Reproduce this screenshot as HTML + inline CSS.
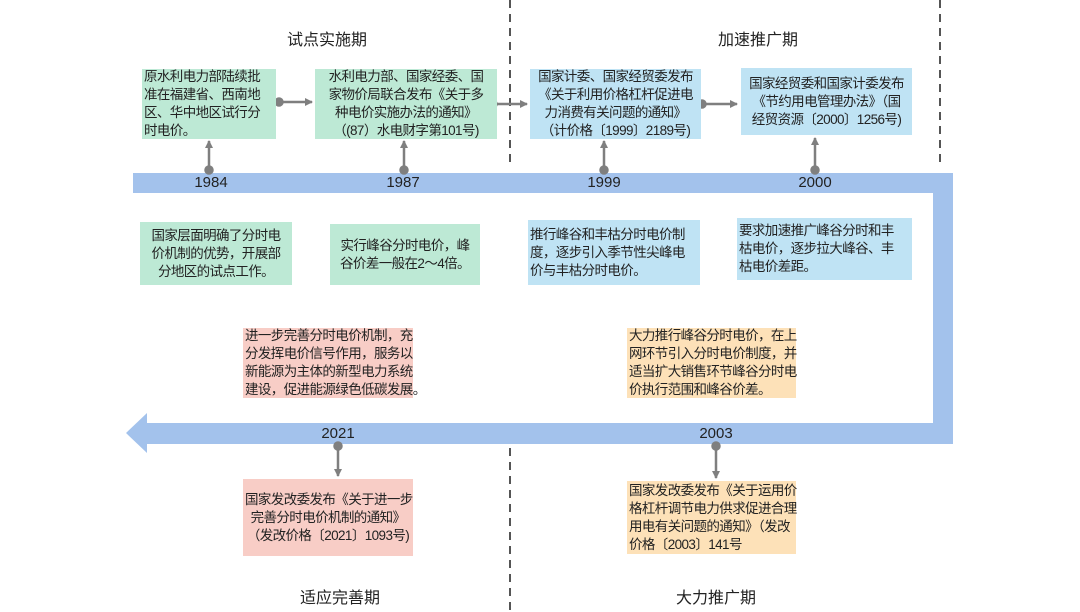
<!DOCTYPE html>
<html><head><meta charset="utf-8"><style>
body{margin:0;width:1080px;height:612px;background:#fff;position:relative;overflow:hidden;font-family:"Liberation Sans","Noto Sans CJK SC",sans-serif;color:#222}
.b{position:absolute;font-size:13.5px;line-height:18px;box-sizing:border-box;padding:0 2px;display:flex;align-items:center;justify-content:center;white-space:nowrap;letter-spacing:-0.6px}
.b div{width:100%}
.g{background:#bde9d5}.bl{background:#bfe3f4}.p{background:#f8cdc6}.o{background:#fde1b8}
.t{position:absolute;font-size:16px;transform:translateX(-50%)}
.y{position:absolute;font-size:15px;transform:translateX(-50%)}
</style></head><body>
<svg width="1080" height="612" style="position:absolute;left:0;top:0">
<defs><marker id="a" markerWidth="8" markerHeight="8" refX="7" refY="4" orient="auto" markerUnits="userSpaceOnUse"><path d="M0,0L8,4L0,8z" fill="#7f7f7f"/></marker></defs>
<g stroke="#555" stroke-width="2" stroke-dasharray="8,6">
<line x1="510" y1="0" x2="510" y2="162"/><line x1="940" y1="0" x2="940" y2="162"/><line x1="510" y1="448" x2="510" y2="612"/></g>
<path d="M133,173H953V444H147V453L126,433L147,413V423H933V193H133Z" fill="#a3c2ec"/>
<g stroke="#7f7f7f" stroke-width="2.5" fill="#7f7f7f">
<line x1="209" y1="170" x2="209" y2="141" marker-end="url(#a)"/><circle cx="209" cy="170" r="3.5"/>
<line x1="404" y1="170" x2="404" y2="141" marker-end="url(#a)"/><circle cx="404" cy="170" r="3.5"/>
<line x1="604" y1="170" x2="604" y2="141" marker-end="url(#a)"/><circle cx="604" cy="170" r="3.5"/>
<line x1="815" y1="170" x2="815" y2="138" marker-end="url(#a)"/><circle cx="815" cy="170" r="3.5"/>
<line x1="338" y1="446" x2="338" y2="476" marker-end="url(#a)"/><circle cx="338" cy="446" r="3.5"/>
<line x1="716" y1="446" x2="716" y2="478" marker-end="url(#a)"/><circle cx="716" cy="446" r="3.5"/>
<line x1="279" y1="102" x2="312" y2="102" marker-end="url(#a)"/><circle cx="279" cy="102" r="3.5"/>
<line x1="493" y1="104" x2="527" y2="104" marker-end="url(#a)"/><circle cx="493" cy="104" r="3.5"/>
<line x1="702" y1="104" x2="737" y2="104" marker-end="url(#a)"/><circle cx="702" cy="104" r="3.5"/>
</g></svg>
<div class="t" style="left:327px;top:26px">试点实施期</div>
<div class="t" style="left:758px;top:26px">加速推广期</div>
<div class="t" style="left:340px;top:584px">适应完善期</div>
<div class="t" style="left:716px;top:584px">大力推广期</div>
<div class="y" style="left:211px;top:174px">1984</div>
<div class="y" style="left:403px;top:174px">1987</div>
<div class="y" style="left:604px;top:174px">1999</div>
<div class="y" style="left:815px;top:174px">2000</div>
<div class="y" style="left:338px;top:425px">2021</div>
<div class="y" style="left:716px;top:425px">2003</div>
<div class="b g" style="left:142px;top:69px;width:134px;height:70px"><div>原水利电力部陆续批<br>准在福建省、西南地<br>区、华中地区试行分<br>时电价。</div></div>
<div class="b g" style="left:315px;top:69px;width:182px;height:70px;text-align:center"><div>水利电力部、国家经委、国<br>家物价局联合发布《关于多<br>种电价实施办法的通知》<br>（(87）水电财字第101号)</div></div>
<div class="b bl" style="left:530px;top:69px;width:171px;height:70px;text-align:center"><div>国家计委、国家经贸委发布<br>《关于利用价格杠杆促进电<br>力消费有关问题的通知》<br>（计价格〔1999〕2189号)</div></div>
<div class="b bl" style="left:741px;top:68px;width:171px;height:67px;text-align:center"><div>国家经贸委和国家计委发布<br>《节约用电管理办法》（国<br>经贸资源〔2000〕1256号)</div></div>
<div class="b g" style="left:140px;top:222px;width:152px;height:63px;text-align:center"><div>国家层面明确了分时电<br>价机制的优势，开展部<br>分地区的试点工作。</div></div>
<div class="b g" style="left:330px;top:224px;width:150px;height:61px;text-align:center"><div>实行峰谷分时电价，峰<br>谷价差一般在2～4倍。</div></div>
<div class="b bl" style="left:528px;top:220px;width:172px;height:65px"><div>推行峰谷和丰枯分时电价制<br>度，逐步引入季节性尖峰电<br>价与丰枯分时电价。</div></div>
<div class="b bl" style="left:737px;top:218px;width:175px;height:62px"><div>要求加速推广峰谷分时和丰<br>枯电价，逐步拉大峰谷、丰<br>枯电价差距。</div></div>
<div class="b p" style="left:243px;top:328px;width:170px;height:70px"><div>进一步完善分时电价机制，充<br>分发挥电价信号作用，服务以<br>新能源为主体的新型电力系统<br>建设，促进能源绿色低碳发展。</div></div>
<div class="b o" style="left:627px;top:328px;width:169px;height:70px"><div>大力推行峰谷分时电价，在上<br>网环节引入分时电价制度，并<br>适当扩大销售环节峰谷分时电<br>价执行范围和峰谷价差。</div></div>
<div class="b p" style="left:243px;top:479px;width:170px;height:77px;text-align:center"><div>国家发改委发布《关于进一步<br>完善分时电价机制的通知》<br>（发改价格〔2021〕1093号)</div></div>
<div class="b o" style="left:627px;top:481px;width:169px;height:73px"><div>国家发改委发布《关于运用价<br>格杠杆调节电力供求促进合理<br>用电有关问题的通知》（发改<br>价格〔2003〕141号</div></div>
</body></html>
